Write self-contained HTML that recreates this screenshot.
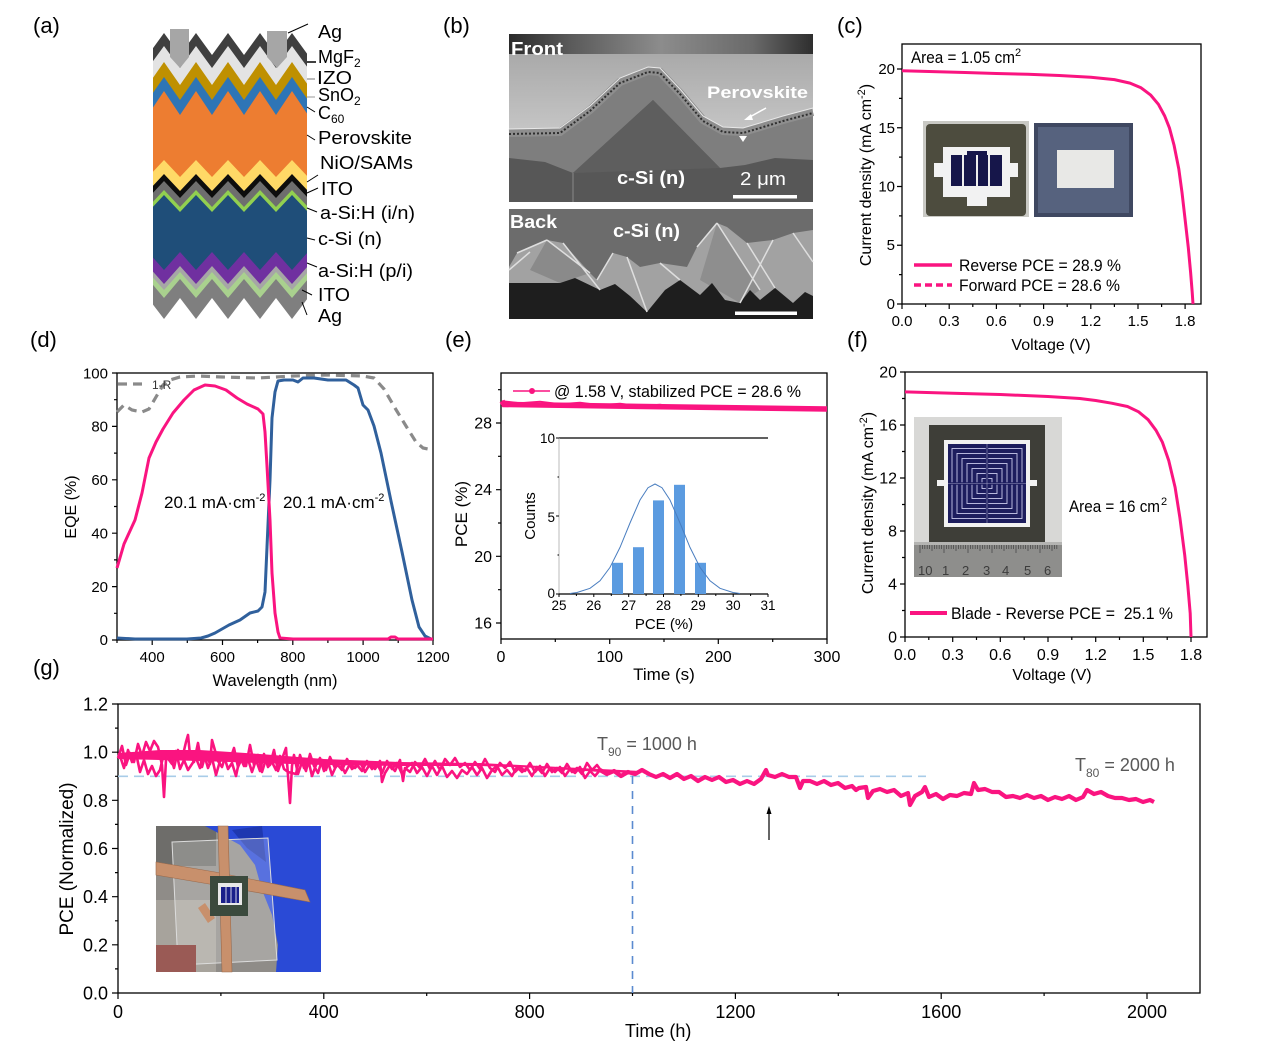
<!DOCTYPE html>
<html><head><meta charset="utf-8"><style>
html,body{margin:0;padding:0;background:#fff;}
svg{display:block;}
text{font-family:"Liberation Sans",Arial,sans-serif;fill:#000;}
.pre{white-space:pre;}
</style></head><body>
<svg width="1269" height="1047" viewBox="0 0 1269 1047" xmlns="http://www.w3.org/2000/svg">
<rect width="1269" height="1047" fill="#fff"/>

<!-- ================= (a) ================= -->
<text x="33" y="33" font-size="22">(a)</text>
<g>
<polygon fill="#3f3f3f" points="153,48.1 164,33 180,55 196,33 212,55 228,33 244,55 260,33 276,55 292,33 307,53.6 307,330 153,330"/>
<polygon fill="#e3e3e3" points="153,61.1 164,46 180,68 196,46 212,68 228,46 244,68 260,46 276,68 292,46 307,66.6 307,330 153,330"/>
<polygon fill="#bf9000" points="153,77.8 164,62 180,85 196,62 212,85 228,62 244,85 260,62 276,85 292,62 307,83.6 307,330 153,330"/>
<polygon fill="#2e75b6" points="153,92.8 164,77 180,100 196,77 212,100 228,77 244,100 260,77 276,100 292,77 307,98.6 307,330 153,330"/>
<polygon fill="#ed7d31" points="153,107.5 164,91 180,115 196,91 212,115 228,91 244,115 260,91 276,115 292,91 307,113.5 307,330 153,330"/>
<polygon fill="#ffd966" points="153,171.7 164,160 180,177 196,160 212,177 228,160 244,177 260,160 276,177 292,160 307,175.9 307,330 153,330"/>
<polygon fill="#0d0d0d" points="153,185.7 164,174 180,191 196,174 212,191 228,174 244,191 260,174 276,191 292,174 307,189.9 307,330 153,330"/>
<polygon fill="#6e6e6e" points="153,192.7 164,181 180,198 196,181 212,198 228,181 244,198 260,181 276,198 292,181 307,196.9 307,330 153,330"/>
<polygon fill="#92d050" points="153,201.7 164,190 180,207 196,190 212,207 228,190 244,207 260,190 276,207 292,190 307,205.9 307,330 153,330"/>
<polygon fill="#1f4e79" points="153,206.7 164,195 180,212 196,195 212,212 228,195 244,212 260,195 276,212 292,195 307,210.9 307,330 153,330"/>
<polygon fill="#7030a0" points="153,257.6 164,270 180,252 196,270 212,252 228,270 244,252 260,270 276,252 292,270 307,253.1 307,335 153,335"/>
<polygon fill="#a6a6a6" points="153,271.6 164,284 180,266 196,284 212,266 228,284 244,266 260,284 276,266 292,284 307,267.1 307,335 153,335"/>
<polygon fill="#a9d18e" points="153,277.6 164,290 180,272 196,290 212,272 228,290 244,272 260,290 276,272 292,290 307,273.1 307,335 153,335"/>
<polygon fill="#7f7f7f" points="153,284.9 164,298 180,279 196,298 212,279 228,298 244,279 260,298 276,279 292,298 307,280.2 307,335 153,335"/>
<polygon fill="#ffffff" points="153,304.6 164,319 180,298 196,319 212,298 228,319 244,298 260,319 276,298 292,319 307,299.3 307,340 153,340"/>
<polygon fill="#a6a6a6" points="170,29 189,29 189,57 180,68 170,57"/>
<polygon fill="#a6a6a6" points="267,31 287,31 287,57 277,68 267,57"/>
</g>
<g stroke="#000" stroke-width="1" fill="none">
<path d="M288,33L308,24"/>
<path d="M307,62H316" stroke-width="1.5"/>
<path d="M307,79H315" stroke="#777"/>
<path d="M307,97H315" stroke="#999"/>
<path d="M307,107L315,112"/>
<path d="M307,135L315,140"/>
<path d="M307,182L318,175"/>
<path d="M307,193L318,188"/>
<path d="M307,208L317,212"/>
<path d="M307,238L315,240"/>
<path d="M307,263L317,267"/>
<path d="M302,290L312,295"/>
<path d="M302,302L307,315"/>
</g>
<g font-size="18">
<text x="318" y="38" textLength="24" lengthAdjust="spacingAndGlyphs">Ag</text>
<text x="318" y="63">MgF<tspan font-size="12" dy="4">2</tspan></text>
<text x="317" y="84" textLength="35" lengthAdjust="spacingAndGlyphs">IZO</text>
<text x="318" y="101">SnO<tspan font-size="12" dy="4">2</tspan></text>
<text x="318" y="119">C<tspan font-size="12" dy="4">60</tspan></text>
<text x="318" y="144" textLength="94" lengthAdjust="spacingAndGlyphs">Perovskite</text>
<text x="320" y="169" textLength="93" lengthAdjust="spacingAndGlyphs">NiO/SAMs</text>
<text x="321" y="195" textLength="32" lengthAdjust="spacingAndGlyphs">ITO</text>
<text x="320" y="219" textLength="95" lengthAdjust="spacingAndGlyphs">a-Si:H (i/n)</text>
<text x="318" y="245" textLength="64" lengthAdjust="spacingAndGlyphs">c-Si (n)</text>
<text x="318" y="277" textLength="95" lengthAdjust="spacingAndGlyphs">a-Si:H (p/i)</text>
<text x="318" y="301" textLength="32" lengthAdjust="spacingAndGlyphs">ITO</text>
<text x="318" y="322" textLength="24" lengthAdjust="spacingAndGlyphs">Ag</text>
</g>

<!-- ================= (b) ================= -->
<text x="443" y="33" font-size="22">(b)</text>
<defs>
<linearGradient id="topband" x1="0" x2="1" y1="0" y2="0">
<stop offset="0" stop-color="#2a2a2a"/><stop offset="0.2" stop-color="#5a5a5a"/><stop offset="0.5" stop-color="#8c8c8c"/><stop offset="0.8" stop-color="#6a6a6a"/><stop offset="1" stop-color="#2e2e2e"/>
</linearGradient>
<linearGradient id="lightreg" x1="0" x2="0" y1="0" y2="1">
<stop offset="0" stop-color="#a8a8a8"/><stop offset="1" stop-color="#c6c6c6"/>
</linearGradient>
</defs>
<rect x="509" y="34" width="304" height="168" fill="#575757"/>
<polygon fill="url(#lightreg)" points="509,50 813,50 813,112 783,120 760,127 743,132 723,131 703,120 680,93 660,72 648,71 620,82 590,110 560,132 509,133"/>
<rect x="509" y="34" width="304" height="20" fill="url(#topband)"/>
<polygon fill="#7e7e7e" points="509,133 560,132 590,110 620,82 648,71 660,72 680,93 703,120 723,131 743,132 760,127 783,120 813,112 813,160 775,158 745,165 720,168 653,100 573,173 545,162 509,158"/>
<polygon fill="#5e5e5e" points="573,173 653,100 720,168"/>
<polyline fill="none" stroke="#8e8e8e" stroke-width="8" points="509,133 560,132 590,110 620,82 648,71 660,72 680,93 703,120 723,131 743,132 760,127 783,120 813,112"/>
<polyline fill="none" stroke="#2f2f2f" stroke-width="2" stroke-dasharray="2,2" points="509,134 560,133 590,111 620,83 648,72 660,73 680,94 703,121 723,132 743,133 760,128 783,121 813,113"/>
<polyline fill="none" stroke="#e8e8e8" stroke-width="1" points="509,129 560,128 590,106 620,78 648,67 660,68 680,89 703,116 723,127 743,128 760,123 783,116 813,108"/>
<path d="M573,173V202" stroke="#8a8a8a" stroke-width="1"/>
<path d="M766,108L748,118" stroke="#fff" stroke-width="1.5"/>
<polygon fill="#fff" points="744,120 751,114 753,120"/>
<polygon fill="#fff" points="739,136 747,136 743,142"/>
<text x="511" y="55" font-size="18" font-weight="bold" style="fill:#fff" textLength="52" lengthAdjust="spacingAndGlyphs">Front</text>
<text x="707" y="98" font-size="17" font-weight="bold" style="fill:#fff" textLength="101" lengthAdjust="spacingAndGlyphs">Perovskite</text>
<text x="617" y="184" font-size="18" font-weight="bold" style="fill:#fff" textLength="68" lengthAdjust="spacingAndGlyphs">c-Si (n)</text>
<text x="740" y="185" font-size="18" style="fill:#fff" textLength="46" lengthAdjust="spacingAndGlyphs">2 μm</text>
<rect x="733" y="195" width="64" height="3.5" fill="#fff"/>
<!-- back -->
<rect x="509" y="209" width="304" height="110" fill="#6c6c6c"/>
<polygon fill="#a2a2a2" points="509,267 517,253 547,240 563,243 590,273 597,280 613,253 627,257 640,267 660,263 687,267 697,247 717,223 727,227 747,243 773,240 793,233 813,230 813,319 509,319"/>
<polygon fill="#8a8a8a" points="547,240 590,273 560,283 530,270"/>
<polygon fill="#8e8e8e" points="717,223 760,290 740,303 700,280"/>
<polygon fill="#1e1e1e" points="509,283 560,283 575,278 600,290 615,284 630,296 647,312 665,290 680,280 700,295 712,283 725,300 740,303 750,290 760,300 775,288 793,303 805,292 813,296 813,319 509,319"/>
<path fill="none" stroke="#dedede" stroke-width="1.5" d="M517,253L547,240 M547,240L590,273 M613,253L597,280 M627,257L647,312 M697,247L717,223 M717,223L760,290 M773,240L740,303 M793,233L813,262 M660,263L680,280 M563,243L600,290 M747,243L775,288 M509,270L530,252"/>
<text x="510" y="228" font-size="18" font-weight="bold" style="fill:#fff" textLength="47" lengthAdjust="spacingAndGlyphs">Back</text>
<text x="613" y="237" font-size="18" font-weight="bold" style="fill:#fff" textLength="67" lengthAdjust="spacingAndGlyphs">c-Si (n)</text>
<rect x="735" y="311.5" width="62" height="3.5" fill="#fff"/>

<!-- ================= (c) ================= -->
<text x="837" y="33" font-size="22">(c)</text>
<rect x="923" y="121" width="106" height="96" fill="#c9c9c4"/>
<rect x="926" y="124" width="100" height="92" rx="4" fill="#4d4c3e"/>
<rect x="943" y="147" width="67" height="50" fill="#f2f2f2"/>
<rect x="934" y="163" width="84" height="14" fill="#f2f2f2"/>
<rect x="967" y="196" width="20" height="10" fill="#f2f2f2"/>
<rect x="951" y="155" width="51" height="31" fill="#16164a"/>
<rect x="967" y="151" width="20" height="5" fill="#16164a"/>
<rect x="962" y="155" width="2" height="31" fill="#eee"/>
<rect x="976" y="155" width="2" height="31" fill="#eee"/>
<rect x="988" y="155" width="2" height="31" fill="#eee"/>
<rect x="1034" y="123" width="99" height="94" fill="#3f4861"/>
<rect x="1038" y="127" width="91" height="86" fill="#56627e"/>
<rect x="1057" y="150" width="57" height="38" fill="#e8e8e6"/>
<rect x="902" y="44" width="299" height="260" fill="none" stroke="#000" stroke-width="1.3"/>
<path stroke="#000" stroke-width="1.2" fill="none" d="M897,304H902M897,245.25H902M897,186.5H902M897,127.75H902M897,69H902M899,274.6H902M899,215.9H902M899,157.1H902M899,98.4H902M902,304V309M949.2,304V309M996.4,304V309M1043.6,304V309M1090.8,304V309M1138,304V309M1185.1,304V309M925.6,304V307M972.8,304V307M1020,304V307M1067.2,304V307M1114.4,304V307M1161.6,304V307"/>
<g font-size="15" text-anchor="end">
<text x="895" y="309">0</text><text x="895" y="250">5</text><text x="895" y="191.5">10</text><text x="895" y="133">15</text><text x="895" y="74">20</text>
</g>
<g font-size="15" text-anchor="middle">
<text x="902" y="326">0.0</text><text x="949.2" y="326">0.3</text><text x="996.4" y="326">0.6</text><text x="1043.6" y="326">0.9</text><text x="1090.8" y="326">1.2</text><text x="1138" y="326">1.5</text><text x="1185.1" y="326">1.8</text>
</g>
<text x="1051" y="350" font-size="16" text-anchor="middle">Voltage (V)</text>
<text transform="translate(871,175) rotate(-90)" font-size="16" text-anchor="middle">Current density (mA cm<tspan font-size="11" dy="-6">-2</tspan><tspan dy="6">)</tspan></text>
<polyline fill="none" stroke="#fa1480" stroke-width="3" stroke-linejoin="round" points="902,70.8 933.5,71.6 965,72.5 996.4,73.5 1027.8,74.3 1059.3,75.5 1090.8,77.2 1114.4,79.6 1130,83.1 1141,87.8 1150.5,94.9 1158.4,104.3 1164.7,116 1169.4,127.8 1174.1,145.4 1178.8,168.9 1182,192.4 1185.1,219.4 1188.3,247.6 1190.6,272.3 1192.2,292.2 1193,304"/>
<text x="911" y="63" font-size="17" textLength="104" lengthAdjust="spacingAndGlyphs">Area = 1.05 cm</text><text x="1015" y="56" font-size="11">2</text>
<path d="M914,265H952" stroke="#fa1480" stroke-width="3.5"/>
<path d="M914,285H952" stroke="#fa1480" stroke-width="3.5" stroke-dasharray="7,4"/>
<text x="959" y="271" font-size="17" textLength="162" lengthAdjust="spacingAndGlyphs">Reverse PCE = 28.9 %</text>
<text x="959" y="291" font-size="17" textLength="161" lengthAdjust="spacingAndGlyphs">Forward PCE = 28.6 %</text>

<!-- ================= (d) ================= -->
<text x="30" y="347" font-size="22">(d)</text>
<rect x="117" y="373" width="316" height="267" fill="none" stroke="#000" stroke-width="1.3"/>
<path stroke="#000" stroke-width="1.2" fill="none" d="M112,640H117M112,586.6H117M112,533.2H117M112,479.8H117M112,426.4H117M112,373H117M114,613.3H117M114,559.9H117M114,506.5H117M114,453.1H117M114,399.7H117M152.2,640V645M222.5,640V645M292.8,640V645M363.1,640V645M433,640V645M117,640V643M187.3,640V643M257.6,640V643M327.9,640V643M398.2,640V643"/>
<g font-size="15" text-anchor="end">
<text x="108" y="645">0</text><text x="108" y="592">20</text><text x="108" y="538.5">40</text><text x="108" y="485">60</text><text x="108" y="431.5">80</text><text x="108" y="378.5">100</text>
</g>
<g font-size="15" text-anchor="middle">
<text x="152.2" y="662">400</text><text x="222.5" y="662">600</text><text x="292.8" y="662">800</text><text x="363.1" y="662">1000</text><text x="433" y="662">1200</text>
</g>
<text x="275" y="686" font-size="16.5" text-anchor="middle">Wavelength (nm)</text>
<text transform="translate(76,507) rotate(-90)" font-size="16" text-anchor="middle">EQE (%)</text>
<polyline fill="none" stroke="#8a8a8a" stroke-width="3.2" stroke-dasharray="9,6" points="117,412 124,405 132,410 142,412 149,409 156,397 163,385 170,380 180,377 198,376 222,377 258,378 293,376 328,375 363,376 374,378 384,389 395,408 406,426 416,442 423,448 433,450"/>
<path d="M118,384H143" stroke="#8a8a8a" stroke-width="3.2" stroke-dasharray="9,6"/>
<text x="152" y="389" font-size="12" style="fill:#333">1-R</text>
<polyline fill="none" stroke="#30609c" stroke-width="3" stroke-linejoin="round" points="117,638 135,639 187,639 201,638 208,636 215,633 222,629 229,625 240,620 250,613 258,611 262,607 265,592 267,547 270,480 272,418 275,392 278,381 284,380 293,380 298,382 303,378 314,378 328,380 346,380 354,385 358,388 363,405 368,410 374,426 381,453 391,501 402,552 412,600 419,627 425,636 431,639 433,639"/>
<polyline fill="none" stroke="#fa1480" stroke-width="3" stroke-linejoin="round" points="117,568 124,544 135,520 142,493 149,458 156,442 163,429 173,413 184,400 194,390 205,385 215,386 226,390 237,398 247,404 258,409 263,414 265,432 267,466 270,520 272,573 275,613 278,632 280,638 293,639 388,639 391,637 395,637 398,639 433,639"/>
<text x="164" y="508" font-size="17">20.1 mA·cm<tspan font-size="11" dy="-7">-2</tspan></text>
<text x="283" y="508" font-size="17">20.1 mA·cm<tspan font-size="11" dy="-7">-2</tspan></text>

<!-- ================= (e) ================= -->
<text x="445" y="347" font-size="22">(e)</text>
<rect x="501" y="373" width="326" height="266" fill="none" stroke="#000" stroke-width="1.3"/>
<path stroke="#000" stroke-width="1.2" fill="none" d="M496,623H501M496,556.3H501M496,489.7H501M496,423H501M498,589.7H501M498,523H501M498,456.3H501M498,389.7H501M501,639V644M609.7,639V644M718.3,639V644M827,639V644M555.3,639V642M664,639V642M772.7,639V642"/>
<g font-size="16" text-anchor="end">
<text x="492" y="628.5">16</text><text x="492" y="562">20</text><text x="492" y="495">24</text><text x="492" y="428.5">28</text>
</g>
<g font-size="16" text-anchor="middle">
<text x="501" y="662">0</text><text x="609.7" y="662">100</text><text x="718.3" y="662">200</text><text x="827" y="662">300</text>
</g>
<text x="664" y="680" font-size="17" text-anchor="middle">Time (s)</text>
<text transform="translate(467,514) rotate(-90)" font-size="17" text-anchor="middle">PCE (%)</text>
<path d="M502,401 L504,404.5 L827,409" stroke="#fa1480" stroke-width="5.5" fill="none"/>
<polyline fill="none" stroke="#fa1480" stroke-width="1.5" points="502,401 520,403 540,401.5 560,404 580,402.5 600,405 620,403.5 640,406 660,404.5 680,407 700,405.5 720,408 740,406.5 760,409 780,407.5 800,410 826,408.5"/>
<path d="M513,391H550" stroke="#fa1480" stroke-width="1.5"/>
<circle cx="532" cy="391" r="3" fill="#fa1480"/>
<text x="554" y="397" font-size="17" textLength="247" lengthAdjust="spacingAndGlyphs">@ 1.58 V, stabilized PCE = 28.6 %</text>
<!-- inset histogram -->
<path d="M559,438H768" stroke="#000" stroke-width="1.3"/>
<path d="M559,438V594" stroke="#bbb" stroke-width="1"/>
<path d="M559,594H768" stroke="#000" stroke-width="1.2"/>
<path stroke="#000" stroke-width="1" fill="none" d="M556,438H559M556,516H559M556,594H559M557.5,477H559M557.5,555H559M559,594V597M593.8,594V597M628.7,594V597M663.5,594V597M698.3,594V597M733.2,594V597M768,594V597M576.4,594V596M611.3,594V596M646.1,594V596M680.9,594V596M715.8,594V596M750.6,594V596"/>
<g fill="#5b9be0">
<rect x="612" y="562.8" width="11" height="31.2"/>
<rect x="633" y="547.2" width="11" height="46.8"/>
<rect x="653" y="500.4" width="11" height="93.6"/>
<rect x="674" y="484.8" width="11" height="109.2"/>
<rect x="695" y="562.8" width="11" height="31.2"/>
</g>
<polyline fill="none" stroke="#4a7ec0" stroke-width="1" points="570,593.5 577,592.5 590,588.3 600,580.8 610,567.4 620,547.4 630,523 640,500 648,487.7 655,484 662,487.7 670,500 680,523 690,547.4 700,567.4 710,580.8 720,588.3 733,592.5 740,593.5"/>
<g font-size="13.5" text-anchor="end">
<text x="555" y="443">10</text><text x="555" y="522">5</text><text x="555" y="598">0</text>
</g>
<g font-size="13.5" text-anchor="middle">
<text x="559" y="610">25</text><text x="593.8" y="610">26</text><text x="628.7" y="610">27</text><text x="663.5" y="610">28</text><text x="698.3" y="610">29</text><text x="733.2" y="610">30</text><text x="768" y="610">31</text>
</g>
<text x="664" y="629" font-size="15" text-anchor="middle">PCE (%)</text>
<text transform="translate(535,516) rotate(-90)" font-size="15" text-anchor="middle">Counts</text>

<!-- ================= (f) ================= -->
<text x="847" y="347" font-size="22">(f)</text>
<rect x="914" y="417" width="148" height="160" fill="#d8d8d6"/>
<rect x="929" y="425" width="116" height="120" fill="#3e3e38"/>
<rect x="944" y="440" width="86" height="87" fill="#f2f2f2"/>
<rect x="937" y="480" width="100" height="6" fill="#f2f2f2"/>
<rect x="948" y="444" width="78" height="79" fill="#1d1d5e"/>
<g fill="none" stroke="#c8c8ea" stroke-width="0.9">
<rect x="982" y="478.5" width="10" height="10"/>
<rect x="977" y="473.5" width="20" height="20"/>
<rect x="972" y="468.5" width="30" height="30"/>
<rect x="967" y="463.5" width="40" height="40"/>
<rect x="962" y="458.5" width="50" height="50"/>
<rect x="957" y="453.5" width="60" height="60"/>
<rect x="952" y="448.5" width="70" height="70"/>
</g>
<path d="M987,444V523M948,483.5H1026" stroke="#1d1d5e" stroke-width="2.5"/>
<path d="M987,444V523M948,483.5H1026" stroke="#9a9ac0" stroke-width="0.6"/>
<rect x="914" y="542" width="148" height="35" fill="#8e8e8c"/>
<rect x="914" y="542" width="148" height="3" fill="#b4b4b2"/>
<path stroke="#4a4a4a" stroke-width="0.8" d="M920,545v8M922.4,545v4M924.8,545v4M927.2,545v4M929.6,545v4M932,545v6M934.4,545v4M936.8,545v4M939.2,545v4M941.6,545v4M944,545v8M946.4,545v4M948.8,545v4M951.2,545v4M953.6,545v4M956,545v6M958.4,545v4M960.8,545v4M963.2,545v4M965.6,545v4M968,545v8M970.4,545v4M972.8,545v4M975.2,545v4M977.6,545v4M980,545v6M982.4,545v4M984.8,545v4M987.2,545v4M989.6,545v4M992,545v8M994.4,545v4M996.8,545v4M999.2,545v4M1001.6,545v4M1004,545v6M1006.4,545v4M1008.8,545v4M1011.2,545v4M1013.6,545v4M1016,545v8M1018.4,545v4M1020.8,545v4M1023.2,545v4M1025.6,545v4M1028,545v6M1030.4,545v4M1032.8,545v4M1035.2,545v4M1037.6,545v4M1040,545v8M1042.4,545v4M1044.8,545v4M1047.2,545v4M1049.6,545v4M1052,545v6M1054.4,545v4M1056.8,545v4"/>
<g font-size="13">
<text x="918" y="575" style="fill:#3c3c3c">10</text><text x="942" y="575" style="fill:#3c3c3c">1</text><text x="962" y="575" style="fill:#3c3c3c">2</text><text x="983" y="575" style="fill:#3c3c3c">3</text><text x="1002" y="575" style="fill:#3c3c3c">4</text><text x="1024" y="575" style="fill:#3c3c3c">5</text><text x="1044" y="575" style="fill:#3c3c3c">6</text>
</g>
<rect x="905" y="372" width="302" height="265" fill="none" stroke="#000" stroke-width="1.3"/>
<path stroke="#000" stroke-width="1.2" fill="none" d="M900,637H905M900,584H905M900,531H905M900,478H905M900,425H905M900,372H905M902,610.5H905M902,557.5H905M902,504.5H905M902,451.5H905M902,398.5H905M905,637V642M952.7,637V642M1000.3,637V642M1048,637V642M1095.7,637V642M1143.3,637V642M1191,637V642M928.8,637V640M976.5,637V640M1024.2,637V640M1071.8,637V640M1119.5,637V640M1167.2,637V640"/>
<g font-size="16" text-anchor="end">
<text x="897" y="642.5">0</text><text x="897" y="589.5">4</text><text x="897" y="536.5">8</text><text x="897" y="483.5">12</text><text x="897" y="430.5">16</text><text x="897" y="377.5">20</text>
</g>
<g font-size="16" text-anchor="middle">
<text x="905" y="660">0.0</text><text x="952.7" y="660">0.3</text><text x="1000.3" y="660">0.6</text><text x="1048" y="660">0.9</text><text x="1095.7" y="660">1.2</text><text x="1143.3" y="660">1.5</text><text x="1191" y="660">1.8</text>
</g>
<text x="1052" y="680" font-size="16" text-anchor="middle">Voltage (V)</text>
<text transform="translate(873,503) rotate(-90)" font-size="16" text-anchor="middle">Current density (mA cm<tspan font-size="11" dy="-6">-2</tspan><tspan dy="6">)</tspan></text>
<polyline fill="none" stroke="#fa1480" stroke-width="3" stroke-linejoin="round" points="905,391.9 952.7,393.2 1000.3,394.5 1048,396.5 1079.8,398.5 1095.7,400.5 1111.6,403.2 1127.5,406.5 1138.6,411.8 1148.1,419.7 1156,430.3 1162.4,442.2 1168.8,460.8 1175.1,487.3 1179.9,517.8 1184.7,554.9 1187.8,585.3 1190.2,613.2 1191,637"/>
<text x="1069" y="512" font-size="17" textLength="91" lengthAdjust="spacingAndGlyphs">Area = 16 cm</text><text x="1161" y="505" font-size="11">2</text>
<path d="M910,613H947" stroke="#fa1480" stroke-width="4"/>
<text x="951" y="619" font-size="17" class="pre" textLength="222" lengthAdjust="spacingAndGlyphs">Blade - Reverse PCE =  25.1 %</text>

<!-- ================= (g) ================= -->
<text x="33" y="675" font-size="22">(g)</text>
<rect x="156" y="826" width="165" height="146" fill="#8f8c88"/>
<rect x="156" y="826" width="60" height="40" fill="#6e6d6a"/>
<rect x="156" y="900" width="60" height="72" fill="#a7a39c"/>
<polygon fill="#2a4ad6" points="205,826 321,826 321,972 276,972 278,945 272,915 262,890 255,865 240,845 220,834"/>
<polygon fill="#1e38b0" points="232,830 262,826 266,862 247,848"/>
<polygon fill="#ffffff" fill-opacity="0.22" stroke="#dcdcdc" stroke-width="1" points="172,842 268,838 277,960 178,965"/>
<polygon fill="#c8906c" stroke="#9a6a4c" stroke-width="0.6" points="156,862 215,872 305,890 310,902 215,885 156,875"/>
<polygon fill="#c8906c" stroke="#9a6a4c" stroke-width="0.6" points="218,826 228,826 232,972 222,972"/>
<polygon fill="#c8906c" points="198,908 205,903 215,918 208,923"/>
<rect x="210" y="876" width="38" height="40" fill="#3b4a3d"/>
<rect x="218" y="883" width="24" height="22" fill="#e8e8e8"/>
<rect x="221" y="887" width="18" height="16" fill="#1a1f8a"/>
<path d="M226,887V903M231,887V903M236,887V903" stroke="#d0d0e8" stroke-width="1"/>
<rect x="156" y="945" width="40" height="27" fill="#9a5a55"/>
<rect x="118" y="704" width="1082" height="289" fill="none" stroke="#000" stroke-width="1.3"/>
<path stroke="#000" stroke-width="1.2" fill="none" d="M112,993H118M112,944.8H118M112,896.7H118M112,848.5H118M112,800.3H118M112,752.2H118M112,704H118M115,968.9H118M115,920.8H118M115,872.6H118M115,824.4H118M115,776.3H118M115,728.1H118M118,993V999M323.8,993V999M529.6,993V999M735.4,993V999M941.2,993V999M1147,993V999M220.9,993V996M426.7,993V996M632.5,993V996M838.3,993V996M1044.1,993V996"/>
<g font-size="18" text-anchor="end">
<text x="108" y="999.5">0.0</text><text x="108" y="951.3">0.2</text><text x="108" y="903.2">0.4</text><text x="108" y="855">0.6</text><text x="108" y="806.8">0.8</text><text x="108" y="758.7">1.0</text><text x="108" y="710.5">1.2</text>
</g>
<g font-size="18" text-anchor="middle">
<text x="118" y="1018">0</text><text x="323.8" y="1018">400</text><text x="529.6" y="1018">800</text><text x="735.4" y="1018">1200</text><text x="941.2" y="1018">1600</text><text x="1147" y="1018">2000</text>
</g>
<text x="625" y="1037" font-size="18">Time (h)</text>
<text transform="translate(73,859) rotate(-90)" font-size="19" text-anchor="middle">PCE (Normalized)</text>
<path d="M118,776.3H926" stroke="#a8cce8" stroke-width="1.6" stroke-dasharray="10,6"/>
<path d="M632.5,776V993" stroke="#5b8bd0" stroke-width="1.6" stroke-dasharray="8,7"/>
<polygon fill="#fa1480" points="118,753 160,750 200,750 260,754 324,759 400,762 480,763 540,766 600,769 640,771 640,773 600,772 540,768 480,766 400,766 324,765 260,763 200,761 160,760 118,759"/>
<polyline fill="none" stroke="#fa1480" stroke-width="2.6" stroke-linejoin="round" points="118,758 122,746 126,765 130,753 134,762 138,744 142,756 146,742 150,751 154,741 158,747 162,765 164,797 166,760 170,754 174,768 178,750 182,759 186,742 188,735 190,755 194,762 198,743 202,767 206,753 210,764 212,740 214,747 218,761 222,767 226,754 230,760 234,748 238,767 242,758 246,766 250,745 254,765 258,755 262,772 266,759 270,765 274,750 278,771 282,759 286,748 290,803 292,766 294,755 298,774 302,762 306,771 310,754 314,766 318,773 322,760 326,770 330,757 335,768 340,762 345,773 350,764 355,768 360,762 365,772 370,764 375,769 380,761 382,782 385,773 390,765 395,771 400,760 403,781 405,768 410,772 415,762 420,768 425,759 430,769 435,761 440,770 445,759 450,765 455,758 460,767 465,763 470,770 475,762 480,769 485,759 490,768 495,772 500,763 505,768 510,762 515,772 520,767 525,771 530,763 535,772 540,766 545,776 550,768 555,772 560,767 565,776 570,769 575,773 580,767 585,778 590,771 595,776 600,770 607,774"/>
<polyline fill="none" stroke="#fa1480" stroke-width="2.6" stroke-linejoin="round" points="120,756 124,768 128,750 132,762 136,753 140,772 144,760 148,774 152,766 156,776 160,770 164,753 172,764 176,751 180,769 184,760 188,770 196,758 200,768 204,754 208,768 212,758 216,775 220,761 224,756 228,769 232,763 236,776 240,757 244,766 248,759 252,772 256,760 260,771 264,754 268,767 272,762 276,770 280,756 284,769 288,772 296,774 300,755 304,768 308,759 312,776 316,765 320,758 324,771 328,762 332,775 337,764 342,770 347,759 352,769 357,765 362,771 367,761 372,769 377,764 382,773 387,761 392,769 397,763 402,774 407,767 412,763 417,773 422,767 427,776 432,766 437,775 442,766 447,777 452,771 457,778 462,770 467,774 472,767 477,775 482,768 487,778 492,770 497,766 502,775 507,770 512,776 517,767 522,772 527,768 532,776 537,767 542,773 547,764 552,772 557,768 562,773 567,764 572,772 577,768 582,774 587,763 592,770 597,765 602,772"/>
<polyline fill="none" stroke="#fa1480" stroke-width="4.2" stroke-linejoin="round" points="600,770 607,774 614,771 621,776 628,772 635,774 642,770 649,774 656,777 663,774 670,778 677,774 684,779 691,776 698,781 705,777 712,780 719,777 726,782 733,780 740,784 747,781 754,784 761,779 766,770 768,775 775,777 782,774 789,777 796,777 800,788 803,781 810,781 817,784 824,781 831,785 838,783 845,788 852,786 856,790 859,788 866,787 868,798 873,791 880,789 887,792 894,790 901,796 908,793 910,805 915,796 922,792 925,787 929,797 936,794 943,799 950,795 957,796 964,793 971,794 974,783 978,790 985,789 992,792 999,792 1006,797 1013,796 1020,798 1027,795 1034,798 1041,796 1048,800 1055,797 1062,799 1069,796 1076,800 1083,797 1087,790 1094,794 1101,792 1108,796 1115,798 1122,798 1129,800 1136,799 1143,802 1150,800 1154,802"/>
<path d="M769,840V812" stroke="#000" stroke-width="1.2"/>
<polygon fill="#000" points="769,806 766.5,814 771.5,814"/>
<text x="597" y="750" font-size="18" style="fill:#595959">T<tspan font-size="12" dy="6" style="fill:#595959">90</tspan><tspan dy="-6" style="fill:#595959"> = 1000 h</tspan></text>
<text x="1075" y="771" font-size="18" style="fill:#595959">T<tspan font-size="12" dy="6" style="fill:#595959">80</tspan><tspan dy="-6" style="fill:#595959"> = 2000 h</tspan></text>
</svg>
</body></html>
